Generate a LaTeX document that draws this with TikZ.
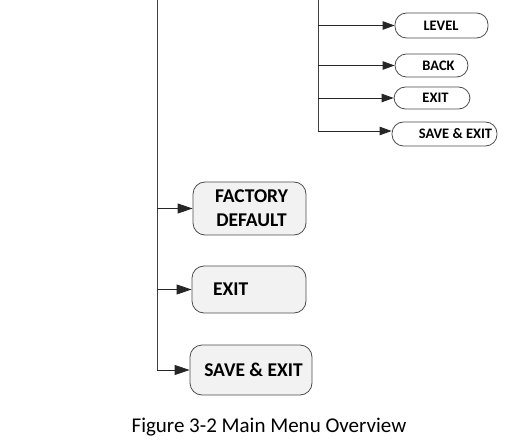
\documentclass[tikz,border=0pt]{standalone}
\usepackage{fontspec}
\setmainfont{Carlito}
\usetikzlibrary{arrows.meta}
\begin{document}
\begin{tikzpicture}[x=1pt,y=-1pt,
  trunk/.style={draw=black!75,line width=0.9pt},
  branch/.style={draw=black!85,line width=0.9pt,-{Triangle[length=12pt,width=8.5pt]}},
  bigbranch/.style={draw=black!85,line width=0.9pt,-{Triangle[length=15pt,width=10pt]}},
  smallbox/.style={draw=black!70,line width=0.8pt,fill=white,rounded corners=11.5pt,inner sep=0pt},
  bigbox/.style={draw=black!70,line width=0.8pt,fill=black!5,rounded corners=12pt,inner sep=0pt},
  smalltxt/.style={font=\bfseries\fontsize{14.5}{16}\selectfont,inner sep=0pt},
  bigtxt/.style={font=\bfseries\fontsize{19.5}{24}\selectfont,inner sep=0pt,align=center},
]
\useasboundingbox (0,0) rectangle (505,443);
% top sub-menu boxes
\node[smallbox,minimum width=93pt,minimum height=25pt] (level) at (441.5,25.5) {};
\node[smallbox,minimum width=73pt,minimum height=23pt] (back) at (431.5,65.5) {};
\node[smallbox,minimum width=76pt,minimum height=22pt] (exitA) at (432,98) {};
\node[smallbox,minimum width=105pt,minimum height=24pt] (saveA) at (444.5,134) {};
\node[smalltxt] (levelT) at (441,25.5) {LEVEL};
\node[smalltxt] (backT) at (438.5,65.5) {BACK};
\node[smalltxt] (exitAT) at (435.5,98) {EXIT};
\node[smalltxt] (saveAT) at (455.5,134) {SAVE \& EXIT};
% bottom main-menu boxes
\node[bigbox,minimum width=113pt,minimum height=53pt] (factory) at (249.5,208.5) {};
\node[bigbox,minimum width=114pt,minimum height=47pt] (exitB) at (249,289.5) {};
\node[bigbox,minimum width=122pt,minimum height=50pt] (saveB) at (251,370) {};
\node[bigtxt] (factoryT) at (251.5,208.5) {FACTORY\\DEFAULT};
\node[bigtxt,anchor=west] (exitBT) at (213,289.5) {EXIT};
\node[bigtxt] (saveBT) at (253.5,370) {SAVE \& EXIT};
% trunks
\coordinate (r0) at (318,0);
\coordinate (r1) at (318,25.5);
\coordinate (r2) at (318,65.5);
\coordinate (r3) at (318,98);
\coordinate (r4) at (318,131);
\coordinate (l0) at (157,0);
\coordinate (l1) at (157,208.5);
\coordinate (l2) at (157,289.5);
\coordinate (l3) at (157,370);
\draw[trunk] (r0) -- (r4);
\draw[trunk] (l0) -- (l3);
\draw[branch] (r1) -- (level.west);
\draw[branch] (r2) -- (back.west);
\draw[branch] (r3) -- (exitA.west);
\draw[branch] (r4) -- (saveA.west |- r4);
\draw[bigbranch] (l1) -- (factory.west);
\draw[bigbranch] (l2) -- (exitB.west);
\draw[bigbranch] (l3) -- (saveB.west);
% caption
\node[font=\fontsize{21}{25}\selectfont,inner sep=0pt] (caption) at (269,427) {Figure 3-2 Main Menu Overview};
\end{tikzpicture}
\end{document}
